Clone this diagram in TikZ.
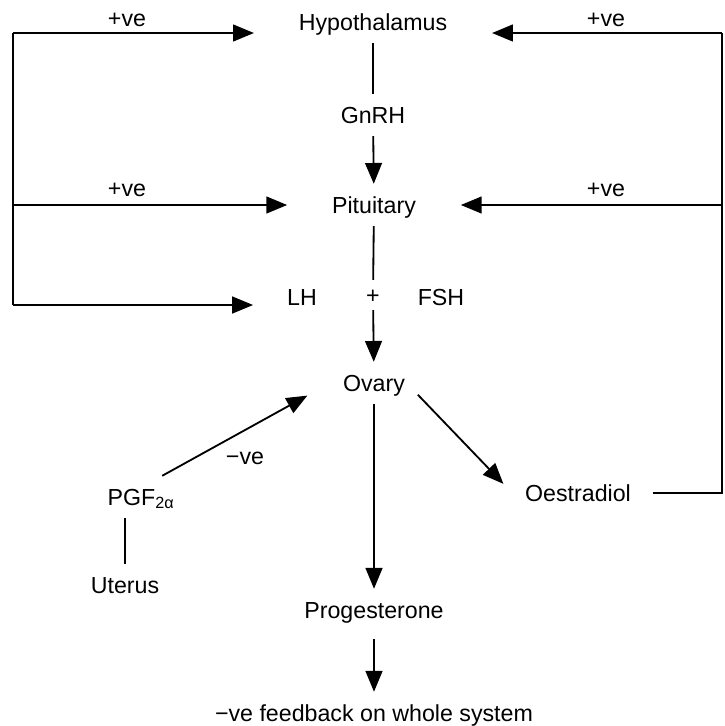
\documentclass[tikz,border=0pt]{standalone}
\usepackage{fontspec}
\setmainfont{Liberation Sans}
\usetikzlibrary{arrows.meta}
\tikzset{
  lbl/.style={font=\fontsize{16.5}{19}\selectfont, text height=11.8pt, text depth=0pt, inner xsep=0.3cm, inner ysep=0.3cm},
  wide/.style={lbl, inner xsep=1.1cm},
  arr/.style={-{Triangle[length=0.52cm, width=0.42cm]}}
}

\begin{document}
\begin{tikzpicture}[x=0.025cm, y=-0.025cm, line width=1.3pt]
      \useasboundingbox (0,0) rectangle (725,726);

      \node[wide] at (373,22) (hyp) {Hypothalamus};
      \node[lbl] at (373,115) (gnrh) {GnRH};
      \node[wide] at (374,205) (pit) {Pituitary};
      \node[lbl, inner xsep=0.83cm] at (302,297) (lh) {LH};
      \node[lbl, inner ysep=0.15cm] at (373,295) (plus) {+};
      \node[lbl] at (441,297) (fsh) {FSH};
      \node[lbl] at (374,383) (ovary) {Ovary};
      \node[lbl, inner xsep=0.52cm] at (578,493) (oes) {Oestradiol};
      \node[lbl] at (141,497) (pgf) {PGF\textsubscript{2α}};
      \node[lbl] at (125,585) (uterus) {Uterus};
      \node[lbl] at (374,610) (prog) {Progesterone};
      \node[lbl] at (374,713) (fb) {−ve feedback on whole system};

      \node[lbl] at (127,18) (ltpos) {+ve};
      \node[lbl] at (606,18) (rtpos) {+ve};
      \node[lbl] at (127,188) (lmpos) {+ve};
      \node[lbl] at (606,188) (rmpos) {+ve};
      \node[lbl] at (245,456) (neg) {−ve};

      \coordinate (lt) at (13,33);
      \coordinate (lm) at (13,205);
      \coordinate (lb) at (13,305);
      \coordinate (rt) at (722,33);
      \coordinate (rm) at (722,205);
      \coordinate (rb) at (722,493);

      \draw (lb) -- (lt);
      \draw[arr] (lt) -- (lt -| hyp.west);
      \draw[arr] (lm) -- (pit.west);
      \draw[arr] (lb) -- (lb -| lh.west);

      \draw (oes.east) -- (rb) -- (rt);
      \draw[arr] (rt) -- (rt -| hyp.east);
      \draw[arr] (rm) -- (pit.east);

      \draw (hyp) -- (gnrh);
      \draw[arr] (gnrh) -- (pit);
      \draw (pit) -- (plus);
      \draw[arr] (plus) -- (ovary);
      \draw[arr] (ovary.-15) -- (oes.173);
      \draw[arr, shorten >=0.65cm] (pgf.45) -- (ovary.west);
      \draw (uterus.north) -- (uterus.north |- pgf.south);
      \draw[arr] (ovary) -- (prog);
      \draw[arr, shorten <=0.2cm] (prog) -- (fb);
    \end{tikzpicture}
\end{document}
